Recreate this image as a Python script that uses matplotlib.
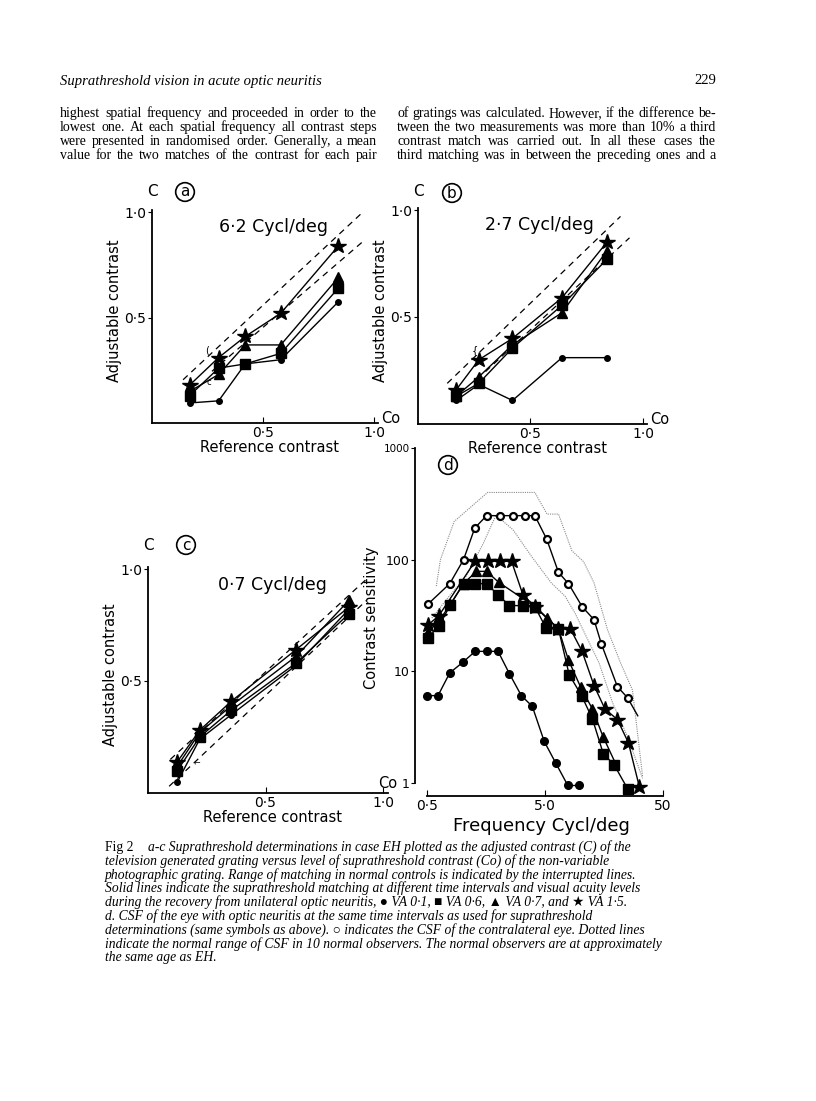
import matplotlib
matplotlib.use('Agg')
import matplotlib.pyplot as plt

W, H = 816, 1101

# panel a  6.2 cycl/deg
a_x = [0.17, 0.30, 0.42, 0.58, 0.84]
a_star = [0.18, 0.31, 0.41, 0.52, 0.84]
a_tri = [0.15, 0.23, 0.37, 0.37, 0.69]
a_sq = [0.13, 0.26, 0.28, 0.33, 0.64]
a_circ = [0.095, 0.105, 0.28, 0.30, 0.575]
a_norm_hi = ([0.14, 0.94], [0.205, 0.99])
a_norm_lo = ([0.27, 0.95], [0.245, 0.86])

# panel b  2.7 cycl/deg
b_x = [0.17, 0.27, 0.42, 0.64, 0.84]
b_star = [0.16, 0.30, 0.40, 0.59, 0.85]
b_tri = [0.13, 0.22, 0.37, 0.52, 0.81]
b_sq = [0.13, 0.19, 0.355, 0.555, 0.77]
b_circ = [0.11, 0.185, 0.11, 0.31, 0.31]
b_norm_hi = ([0.13, 0.90], [0.19, 0.97])
b_norm_lo = ([0.30, 0.94], [0.245, 0.87])

# panel c  0.7 cycl/deg
c_x = [0.125, 0.22, 0.355, 0.63, 0.855]
c_star = [0.14, 0.28, 0.41, 0.64, 0.83]
c_tri = [0.12, 0.27, 0.39, 0.61, 0.86]
c_sq = [0.10, 0.25, 0.37, 0.58, 0.80]
c_circ = [0.05, 0.24, 0.35, 0.57, 0.82]
c_norm_hi = ([0.095, 0.93], [0.15, 0.955])
c_norm_lo = ([0.09, 0.93], [0.03, 0.86])

# panel d  CSF
d_open_f = [0.51, 0.78, 1.02, 1.27, 1.6, 2.08, 2.67, 3.37, 4.1, 5.16, 6.5, 7.9, 10.3, 13.0, 15.0, 20.5, 25.0, 30.5]
d_open_s = [40, 61, 100, 192, 248, 248, 248, 248, 248, 153, 77, 61, 38, 29, 17.6, 7.3, 5.8, 4.0]
d_star_f = [0.51, 0.63, 1.28, 1.63, 2.08, 2.6, 3.26, 4.15, 6.5, 8.2, 10.3, 13.0, 16.1, 20.5, 25.4, 31.5]
d_star_s = [26, 31.5, 97, 97, 97, 97, 48, 38, 24, 24, 15.1, 7.45, 4.6, 3.7, 2.3, 0.92]
d_tri_f = [0.51, 0.63, 0.79, 1.02, 1.31, 1.6, 2.03, 4.1, 5.16, 6.5, 7.9, 10.0, 12.6, 15.5, 19.2]
d_tri_s = [22.5, 28, 40, 61, 78.6, 78.6, 62.6, 38, 30, 24, 12.6, 7.25, 4.6, 2.6, 1.6]
d_sq_f = [0.51, 0.63, 0.79, 1.02, 1.28, 1.6, 1.99, 2.5, 3.26, 4.1, 5.1, 6.5, 8.0, 10.2, 12.6, 15.6, 19.2, 25.0]
d_sq_s = [20, 25.3, 39.5, 61, 61, 61, 48.6, 38.8, 38.8, 38, 24.4, 24, 9.35, 6.06, 3.75, 1.82, 1.46, 0.89]
d_circ_f = [0.5, 0.62, 0.78, 1.01, 1.28, 1.6, 2.0, 2.5, 3.15, 3.9, 4.92, 6.16, 7.8, 9.75]
d_circ_s = [6.06, 6.06, 9.68, 12.1, 15.1, 15.1, 15.1, 9.5, 6.06, 4.86, 2.36, 1.51, 0.95, 0.95]
d_norm_hi_f = [0.6, 0.65, 0.85, 1.63, 4.1, 5.2, 6.5, 8.45, 10.6, 13.0, 16.9, 21.8, 27.5, 33.5]
d_norm_hi_s = [58, 100, 220, 400, 400, 256, 256, 120, 96, 62, 23.6, 11.9, 6.8, 1.15]
d_norm_lo_f = [0.55, 0.77, 1.07, 1.5, 1.92, 2.67, 3.84, 5.65, 7.4, 9.0, 11.3, 14.3, 18.7, 25.0, 33.5]
d_norm_lo_s = [30, 47, 71, 140, 250, 186, 107, 62, 47, 33, 20, 12, 5.2, 2.6, 1.1]

header = "Suprathreshold vision in acute optic neuritis"
body_left = ["highest spatial frequency and proceeded in order to the",
             "lowest one. At each spatial frequency all contrast steps",
             "were presented in randomised order. Generally, a mean",
             "value for the two matches of the contrast  for each pair"]
body_right = ["of gratings was calculated. However, if the difference be-",
              "tween the two measurements was more than 10% a third",
              "contrast match was carried out. In all these cases the",
              "third matching was in between the preceding ones and a"]
caption_first = "a-c Suprathreshold determinations in case EH plotted as the adjusted contrast (C) of the"
caption = ["television generated grating versus level of suprathreshold contrast (Co) of the non-variable",
           "photographic grating. Range of matching in normal controls is indicated by the interrupted lines.",
           "Solid lines indicate the suprathreshold matching at different time intervals and visual acuity levels",
           "during the recovery from unilateral optic neuritis, \u25cf VA 0\u00b71, \u25a0 VA 0\u00b76, \u25b2 VA 0\u00b77, and \u2605 VA 1\u00b75.",
           "d. CSF of the eye with optic neuritis at the same time intervals as used for suprathreshold",
           "determinations (same symbols as above). \u25cb indicates the CSF of the contralateral eye. Dotted lines",
           "indicate the normal range of CSF in 10 normal observers. The normal observers are at approximately",
           "the same age as EH."]

fig = plt.figure(figsize=(W / 100, H / 100), dpi=100)
serif = ['Liberation Serif', 'DejaVu Sans']
rend = fig.canvas.get_renderer()


def ftext(x, y, s, **kw):
    return fig.text(x / W, 1 - y / H, s, **kw)


def fit_size(s, target, **kw):
    # font size that makes s about target pixels wide
    t = fig.text(0, 0, s, fontsize=10, **kw)
    w = t.get_window_extent(rend).width
    t.remove()
    return 10 * target / w


def justify(line, x0, x1, y, **kw):
    words = line.split()
    ts = [ftext(0, y, w, va='center', **kw) for w in words]
    ws = [t.get_window_extent(rend).width for t in ts]
    gap = (x1 - x0 - sum(ws)) / (len(ws) - 1)
    x = x0
    for t, w in zip(ts, ws):
        t.set_x(x / W)
        x += w + gap


def lin_panel(x0, y0, sx, sy, x, circ, sq, tri, star, hi, lo, title):
    ax = fig.add_axes([x0 / W, 1 - y0 / H, 1.06 * sx / W, 1.06 * sy / H])
    ax.patch.set_alpha(0)
    ax.set_xlim(0, 1.06)
    ax.set_ylim(0, 1.06)
    ax.spines[['top', 'right']].set_visible(False)
    ax.spines['left'].set_bounds(0, 1.01)
    ax.spines['bottom'].set_bounds(0, 1.02)
    for sp in ax.spines.values():
        sp.set_linewidth(1.3)
    ax.set_xticks([0.5, 1.0], ['0\u00b75', '1\u00b70'])
    ax.set_yticks([0.5, 1.0], ['0\u00b75', '1\u00b70'])
    ax.tick_params(axis='x', direction='in', length=4, labelsize=10, pad=2)
    ax.tick_params(axis='y', direction='out', length=3, labelsize=10, pad=1)
    ax.plot(*hi, 'k--', lw=0.9, dashes=(5, 4))
    ax.plot(*lo, 'k--', lw=0.9, dashes=(5, 4))
    ax.plot(x, circ, 'k-', lw=1, marker='o', ms=4)
    ax.plot(x, sq, 'k-', lw=1, marker='s', ms=6.5)
    ax.plot(x, tri, 'k-', lw=1, marker='^', ms=7)
    ax.plot(x, star, 'k-', lw=1, marker='*', ms=11.5)
    ax.text(0.3, 0.93, title, fontsize=12.5, va='center')
    ax.set_xlabel('Reference contrast', fontsize=10.5, labelpad=0)
    ax.set_ylabel('Adjustable contrast', fontsize=10.5, labelpad=2)
    return ax


ax_a = lin_panel(152, 423, 222, 211, a_x, a_circ, a_sq, a_tri, a_star, a_norm_hi, a_norm_lo, '6\u00b72 Cycl/deg')
ax_b = lin_panel(418, 424, 225, 214, b_x, b_circ, b_sq, b_tri, b_star, b_norm_hi, b_norm_lo, '2\u00b77 Cycl/deg')
ax_c = lin_panel(148, 793, 235, 224, c_x, c_circ, c_sq, c_tri, c_star, c_norm_hi, c_norm_lo, '0\u00b77 Cycl/deg')
for ax in (ax_a, ax_b):
    ax.text(1.03, 0.02, 'Co', fontsize=10.5, va='center', ha='left', clip_on=False)
ax_c.text(0.98, 0.01, 'Co', fontsize=10.5, va='bottom', ha='left', clip_on=False)

# little brackets drawn by hand on the original
ax_a.text(0.24, 0.33, '(', fontsize=7)
ax_a.text(0.245, 0.18, 'c', fontsize=6)
ax_b.text(0.24, 0.33, '{', fontsize=7)
ax_c.text(0.19, 0.26, '{', fontsize=7)
ax_c.text(0.19, 0.12, '\u2310', fontsize=6)

# panel d
ax_d = fig.add_axes([415 / W, 1 - 796 / H, (668 - 415) / W, (796 - 440) / H])
ax_d.patch.set_alpha(0)
ax_d.set_xscale('log')
ax_d.set_yscale('log')
ax_d.set_xlim(0.396, 55)
ax_d.set_ylim(0.765, 1180)
ax_d.spines[['top', 'right']].set_visible(False)
ax_d.spines['left'].set_bounds(1, 1000)
ax_d.spines['bottom'].set_bounds(0.5, 50)
for sp in ax_d.spines.values():
    sp.set_linewidth(1.3)
ax_d.minorticks_off()
ax_d.set_xticks([0.5, 5, 50], ['0\u00b75', '5\u00b70', '50'])
ax_d.set_yticks([1, 10, 100, 1000], ['1', '10', '100', '1000'])
ax_d.tick_params(axis='x', direction='in', length=4, labelsize=10, pad=2)
ax_d.tick_params(axis='y', direction='out', length=3, labelsize=9, pad=1)
ax_d.get_yticklabels()[-1].set_fontsize(7.5)
ax_d.plot(d_norm_hi_f, d_norm_hi_s, color='#8a8a8a', lw=0.8, ls=(0, (1, 1)))
ax_d.plot(d_norm_lo_f, d_norm_lo_s, color='#8a8a8a', lw=0.8, ls=(0, (1, 1)))
ax_d.plot(d_circ_f, d_circ_s, 'k-', lw=1, marker='o', ms=5.5)
ax_d.plot(d_sq_f, d_sq_s, 'k-', lw=1, marker='s', ms=6.5)
ax_d.plot(d_tri_f, d_tri_s, 'k-', lw=1, marker='^', ms=7, markevery=list(range(len(d_tri_f) - 1)))
ax_d.plot(d_star_f, d_star_s, 'k-', lw=1, marker='*', ms=11.5)
ax_d.plot(d_open_f, d_open_s, 'k-', lw=1, marker='o', ms=5, mfc='white', mew=1.6,
          markevery=list(range(len(d_open_f) - 1)))
ax_d.set_xlabel('Frequency Cycl/deg', fontsize=13, labelpad=3)
ax_d.set_ylabel('Contrast sensitivity', fontsize=10.5, labelpad=3)

# axis corner labels and circled panel letters
for cx, cy in [(152, 192), (418, 192), (148, 545)]:
    ftext(cx, cy, 'C', fontsize=11, ha='center', va='center')
circ_box = dict(boxstyle='circle,pad=0.12', fc='none', ec='k', lw=1.2)
for (lx, ly), s in zip([(185, 192), (452, 193), (186, 545), (448, 465)], 'abcd'):
    ftext(lx, ly, s, fontsize=11, ha='center', va='center', bbox=circ_box)

# page text
hsize = fit_size(header, 260, family=serif, style='italic')
ftext(60, 81, header, family=serif, style='italic', fontsize=hsize, va='center')
ftext(716, 81, '229', family=serif, fontsize=hsize, va='center', ha='right')
for i, line in enumerate(body_left):
    justify(line, 60, 377, 113.5 + 14 * i, family=serif, fontsize=10)
for i, line in enumerate(body_right):
    justify(line, 397, 716, 113.5 + 14 * i, family=serif, fontsize=10)

csize = fit_size(caption[6], 556, family=serif, style='italic')
ftext(105, 847, 'Fig 2', family=serif, fontsize=csize, va='center')
ftext(148, 847, caption_first, family=serif, style='italic', fontsize=csize, va='center')
for i, line in enumerate(caption):
    ftext(105, 860.8 + 13.85 * i, line, family=serif, style='italic', fontsize=csize, va='center')

fig.savefig('out.png', dpi=100)
